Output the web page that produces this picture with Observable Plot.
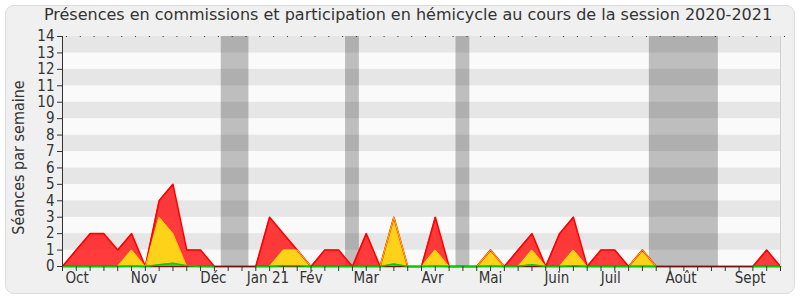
<!DOCTYPE html>
<html><head><meta charset="utf-8">
<script src="https://cdn.jsdelivr.net/npm/d3@7"></script>
<script src="https://cdn.jsdelivr.net/npm/@observablehq/plot@0.6"></script>
<style>
html,body{margin:0;padding:0;background:#fff;}
#wrap{position:relative;width:800px;height:300px;overflow:hidden;font-family:"DejaVu Sans Condensed","DejaVu Sans",sans-serif;}
#bg{position:absolute;left:5px;top:5px;width:788px;height:287px;background:#f0f0f0;border:1px solid #dcdcdc;border-radius:9px;}
#title{position:absolute;left:0;width:816px;top:5px;text-align:center;font-family:"DejaVu Sans",sans-serif;font-size:16px;color:#333;white-space:nowrap;}
#chart{position:absolute;left:0;top:0;}
</style></head>
<body><div id="wrap"><div id="bg"></div><div id="title">Présences en commissions et participation en hémicycle au cours de la session 2020-2021</div><div id="chart"></div></div>
<script>
// week index 0..52 (session 2020-2021, weekly)
const weeks = d3.range(0, 53);
const red =    [0,1,2,2,1,2,0,4,5,1,1,0,0,0,0,3,2,1,0,1,1,0,2,0,3,0,0,3,0,0,0,1,0,1,2,0,2,3,0,1,1,0,1,0,0,0,0,0,0,0,0,1,0];
const yellow = [0,0,0,0,0,1,0,3,2,0,0,0,0,0,0,0,1,1,0,0,0,0,0,0,3,0,0,1,0,0,0,1,0,0,1,0,0,1,0,0,0,0,1,0,0,0,0,0,0,0,0,0,0];
const green =  [0,0,0,0,0,0.03,0,0.1,0.2,0.05,0,0,null,null,0,0,0.05,0.05,0,0,0,0,0,0,0.15,0,0,0.03,0,0,0,0.03,0,0.02,0.1,0,0,0.05,0,0,0,0,0.02,0,null,null,null,null,null,null,0,0,0];
const vacStart = [11.5, 20.5, 28.5, 42.5];
const vacEnd   = [13.5, 21.5, 29.5, 47.5];
const monthLabels = ["Oct","Nov","Déc","Jan 21","Fév","Mar","Avr","Mai","Juin","Juil","Août","Sept"];
const monthPos    = [1.06, 5.9, 10.93, 14.88, 18.0, 22.0, 26.8, 31.0, 35.8, 39.7, 44.8, 49.8];
const yTicks = d3.range(0, 15);

const rows = weeks.map((w, i) => ({w, red: red[i], yellow: yellow[i], green: green[i]}));
const vac = vacStart.map((s, i) => ({s, e: vacEnd[i]}));
const months = monthLabels.map((label, i) => ({label, pos: monthPos[i]}));
const stripes = yTicks.slice(0, -1).map(t => ({y1: t, y2: t + 1, odd: t % 2 === 1}));

const chart = Plot.plot({
  width: 800, height: 300,
  marginLeft: 62, marginRight: 20, marginTop: 36, marginBottom: 34,
  style: {background: "transparent", fontFamily: "'DejaVu Sans Condensed','DejaVu Sans',sans-serif", color: "#333"},
  x: {domain: [0, 52], axis: null},
  y: {domain: [0, 14], axis: null},
  marks: [
    Plot.rectY(stripes, {x1: 0, x2: 52, y1: "y1", y2: "y2", fill: d => d.odd ? "#e6e6e6" : "#fafafa"}),
    Plot.rectY(vac, {x1: "s", x2: "e", y1: 0, y2: 14, fill: "#000", fillOpacity: 0.24}),
    Plot.areaY(rows, {x: "w", y: "red", fill: "#ff2020", fillOpacity: 0.88}),
    Plot.areaY(rows, {x: "w", y: "yellow", fill: "#ffd21a"}),
    Plot.lineY(rows, {x: "w", y: "red", stroke: "#ff0000", strokeWidth: 1.6}),
    Plot.lineY(rows, {x: "w", y: "yellow", stroke: "#ffdf00", strokeWidth: 0.9}),
    Plot.ruleY([0], {stroke: "#7a1010", strokeWidth: 1.5}),
    Plot.areaY(rows, {x: "w", y: "green", fill: "#22dd22"}),
    Plot.lineY(rows, {x: "w", y: "green", stroke: "#00cc00", strokeWidth: 1.5}),
    Plot.ruleX([52], {y1: 0, y2: 14, stroke: "#d0d0d0"}),
    Plot.ruleX([0], {y1: 0, y2: 14, stroke: "#333"}),
    Plot.axisX({anchor: "bottom", ticks: weeks, tickSize: 5, tickFormat: () => "", stroke: "#333"}),
    Plot.axisX({anchor: "top", ticks: weeks, tickSize: 1, tickFormat: () => "", stroke: "#333", dx: 4}),
    Plot.axisY({ticks: yTicks, tickSize: 5, tickPadding: 3, fontSize: 15, label: null, stroke: "#333", fill: "#333"}),
    Plot.text(months, {x: "pos", text: "label", frameAnchor: "bottom", dy: 16, fontSize: 15, fill: "#333"}),
    Plot.text(["Séances par semaine"], {frameAnchor: "left", dx: -44, dy: 6, rotate: -90, textAnchor: "middle", fontSize: 16, fill: "#333"})
  ]
});
document.getElementById("chart").appendChild(chart);
</script></body></html>
